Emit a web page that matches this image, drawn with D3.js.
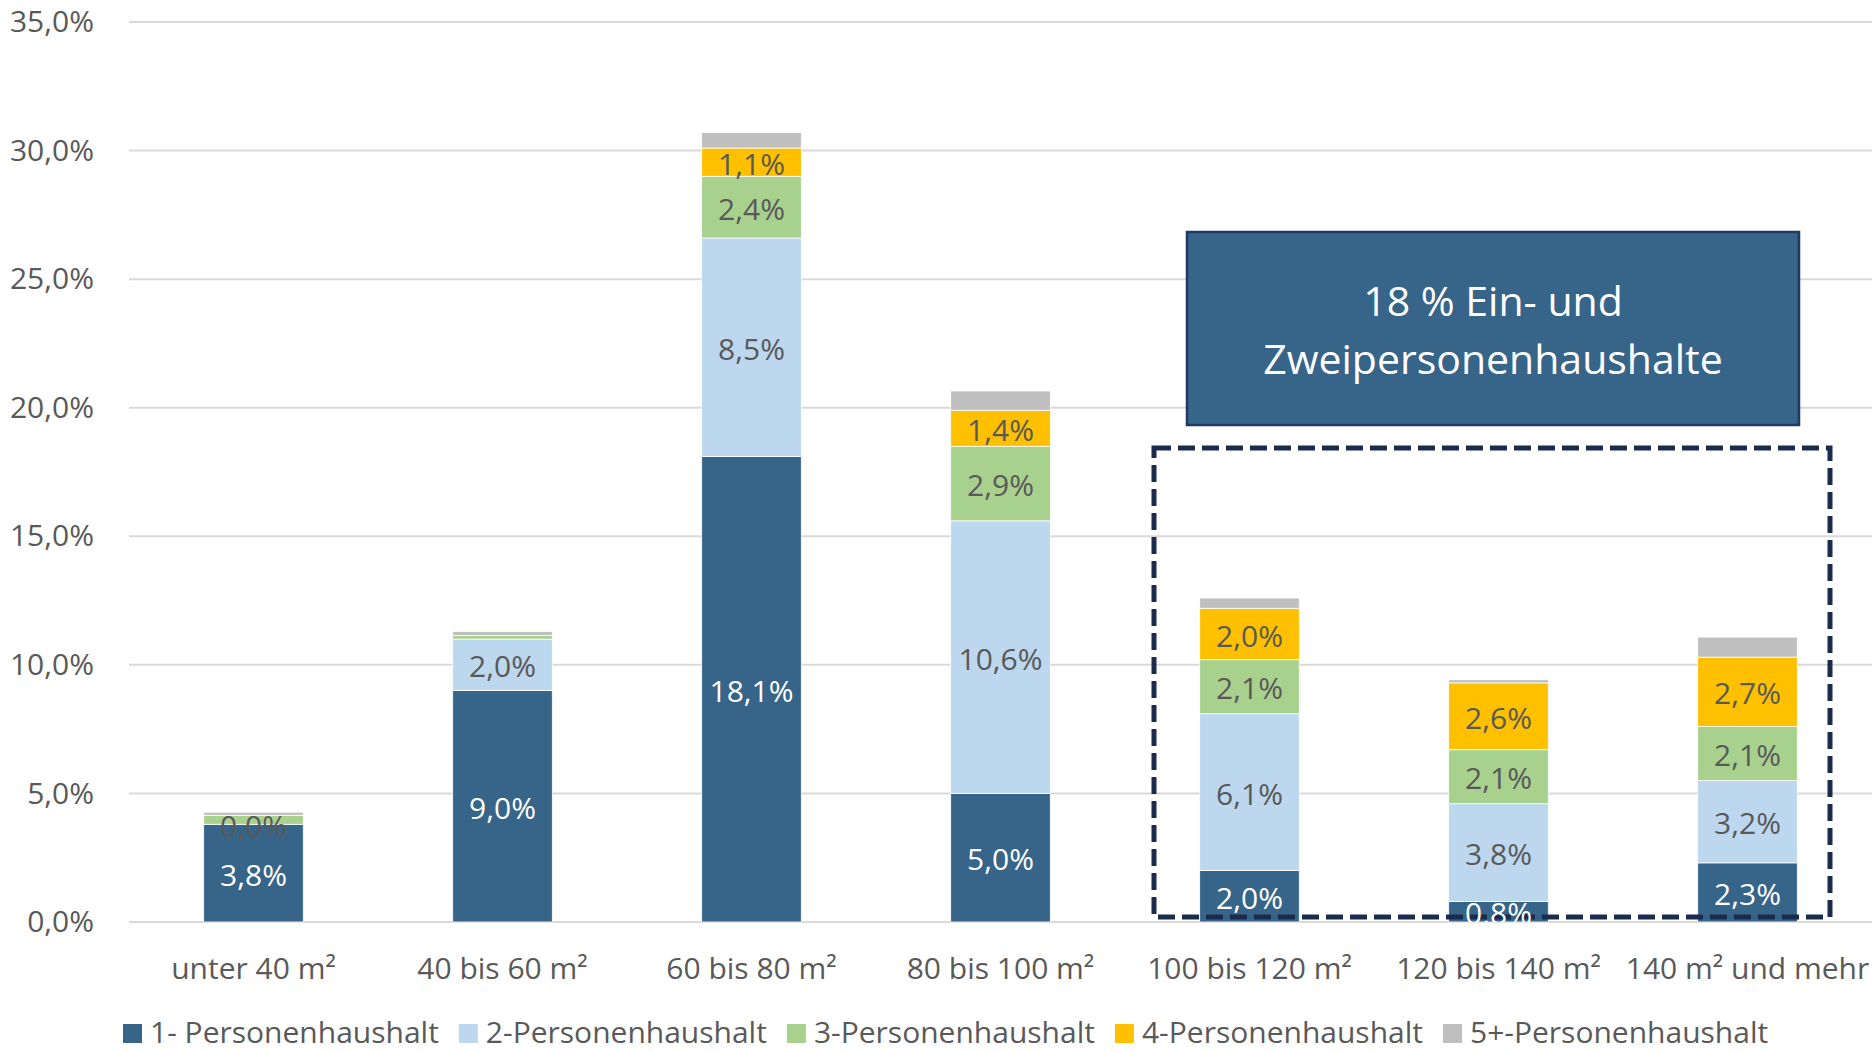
<!DOCTYPE html>
<html>
<head>
<meta charset="utf-8">
<script src="https://cdn.jsdelivr.net/npm/d3@7"></script>
<style>
body{margin:0;background:#fff;}
text{font-family:"Open Sans","Noto Sans",sans-serif;}
</style>
</head>
<body>
<svg id="chart" width="1874" height="1052"></svg>
<script>
const categories = ["unter 40 m²","40 bis 60 m²","60 bis 80 m²","80 bis 100 m²","100 bis 120 m²","120 bis 140 m²","140 m² und mehr"];
const seriesNames = ["1- Personenhaushalt","2-Personenhaushalt","3-Personenhaushalt","4-Personenhaushalt","5+-Personenhaushalt"];
const colors = ["#376489","#BDD7EE","#A9D18E","#FFC000","#BFBFBF"];
// values in percent, per household size
const p1 = [3.8, 9.0, 18.1, 5.0, 2.0, 0.8, 2.3];
const p2 = [0.0, 2.0, 8.5, 10.6, 6.1, 3.8, 3.2];
const p3 = [0.35, 0.14, 2.4, 2.9, 2.1, 2.1, 2.1];
const p4 = [0.0, 0.0, 1.1, 1.4, 2.0, 2.6, 2.7];
const p5 = [0.12, 0.16, 0.6, 0.75, 0.4, 0.12, 0.78];
// which segments carry a data label (1 = shown)
const labelMask = [
  [1,1,0,0,0],[1,1,0,0,0],[1,1,1,1,0],[1,1,1,1,0],[1,1,1,1,0],[1,1,1,1,0],[1,1,1,1,0]
];
const yTicks = [0,5,10,15,20,25,30,35];
const boxText = ["18 % Ein- und","Zweipersonenhaushalte"];

const svg = d3.select("#chart");
const plotL = 129, plotR = 1872, plotT = 22, plotB = 922;

const x = d3.scaleBand().domain(categories).range([plotL,plotR]).paddingInner(0.6).paddingOuter(0.3);
const y = d3.scaleLinear().domain([0,35]).range([plotB,plotT]);
const fmt = v => d3.format(".1f")(v).replace(".",",") + "%";

// gridlines
svg.append("g").selectAll("line").data(yTicks).enter().append("line")
  .attr("x1",plotL).attr("x2",plotR)
  .attr("y1",d=>y(d)).attr("y2",d=>y(d))
  .attr("stroke","#D9D9D9").attr("stroke-width",2);

// y axis labels
const yAxis = d3.axisLeft(y).tickValues(yTicks).tickFormat(fmt).tickSize(0).tickPadding(0);
const ya = svg.append("g").attr("transform","translate(94,0)").call(yAxis);
ya.select(".domain").remove();
ya.selectAll("text").attr("font-size",30).attr("fill","#595959").attr("font-family","Open Sans");

// x axis labels
const xAxis = d3.axisBottom(x).tickSize(0).tickPadding(0);
const xa = svg.append("g").attr("transform","translate(0,958)").call(xAxis);
xa.select(".domain").remove();
xa.selectAll("text").attr("font-size",30).attr("fill","#595959").attr("font-family","Open Sans");

// stacked data
const rows = categories.map((c,i)=>({cat:c,s0:p1[i],s1:p2[i],s2:p3[i],s3:p4[i],s4:p5[i]}));
const keys = ["s0","s1","s2","s3","s4"];
const stacked = d3.stack().keys(keys)(rows);

const bars = svg.append("g");
stacked.forEach((layer,si)=>{
  bars.append("g").selectAll("rect").data(layer).enter().append("rect")
    .attr("x",d=>x(d.data.cat))
    .attr("width",x.bandwidth())
    .attr("y",d=>y(d[1]))
    .attr("height",d=>y(d[0])-y(d[1]))
    .attr("fill",colors[si])
    .attr("stroke","#ffffff").attr("stroke-width",0.8);
});

// dashed highlight box
svg.append("rect")
  .attr("x",1154).attr("y",448).attr("width",1830-1154).attr("height",917-448)
  .attr("fill","none").attr("stroke","#1B2B4D").attr("stroke-width",5)
  .attr("stroke-dasharray","17,7");

// data labels, clipped to plot area
svg.append("clipPath").attr("id","plotclip").append("rect")
  .attr("x",plotL).attr("y",0).attr("width",plotR-plotL).attr("height",plotB);
const labels = svg.append("g").attr("clip-path","url(#plotclip)");
stacked.forEach((layer,si)=>{
  labels.append("g").selectAll("text")
    .data(layer.filter((d,ci)=>labelMask[ci][si]===1)).enter().append("text")
    .attr("x",d=>x(d.data.cat)+x.bandwidth()/2)
    .attr("y",d=>(y(d[0])+y(d[1]))/2)
    .attr("dy","0.42em")
    .attr("text-anchor","middle")
    .attr("font-size",30)
    .attr("fill",si===0?"#FFFFFF":"#595959")
    .text(d=>fmt(d.data[keys[si]]));
});

// annotation box
svg.append("rect").attr("x",1187).attr("y",232).attr("width",1799-1187).attr("height",425-232)
  .attr("fill","#376489").attr("stroke","#1F3864").attr("stroke-width",2.5);
svg.append("g").selectAll("text").data(boxText).enter().append("text")
  .attr("x",1493).attr("y",(d,i)=>302+i*58).attr("dy","0.35em")
  .attr("text-anchor","middle").attr("font-size",41).attr("fill","#fff")
  .text(d=>d);

// legend
const legend = svg.append("g").attr("transform","translate(0,1032)");
let lx = 123;
seriesNames.forEach((n,i)=>{
  legend.append("rect").attr("x",lx).attr("y",-8).attr("width",19).attr("height",19).attr("fill",colors[i]);
  const t = legend.append("text").attr("x",lx+27).attr("y",0).attr("dy","0.35em")
    .attr("font-size",30).attr("fill","#595959").text(n);
  lx += 27 + t.node().getComputedTextLength() + 20;
});
</script>
</body>
</html>
